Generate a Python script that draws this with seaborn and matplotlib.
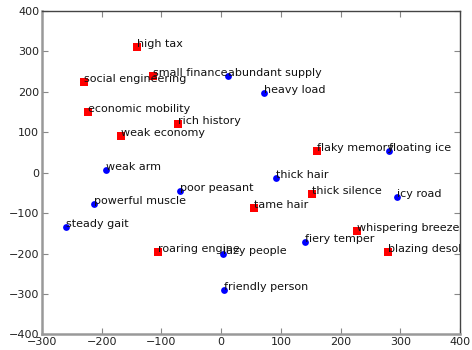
import matplotlib
matplotlib.use("Agg")
import matplotlib.pyplot as plt
import seaborn as sns
import pandas as pd

red_labels = ["high tax", "small finance", "social engineering", "economic mobility",
              "rich history", "weak economy", "flaky memory", "tame hair",
              "thick silence", "whispering breeze", "blazing desolation", "roaring engine"]
red_x = [-141, -114, -229, -223, -72, -168, 161, 55, 152, 228, 279, -106]
red_y = [311, 240, 224, 151, 121, 91, 53, -86, -53, -145, -197, -195]

blue_labels = ["abundant supply", "heavy load", "floating ice", "weak arm", "thick hair",
               "icy road", "poor peasant", "powerful muscle", "steady gait",
               "lazy people", "friendly person", "fiery temper"]
blue_x = [11, 71, 281, -193, 92, 294, -69, -213, -260, 3, 4, 140]
blue_y = [240, 197, 54, 6, -13, -61, -44, -77, -133, -202, -289, -171]

x_ticks = [-300, -200, -100, 0, 100, 200, 300, 400]
y_ticks = [-400, -300, -200, -100, 0, 100, 200, 300, 400]

red_df = pd.DataFrame({"x": red_x, "y": red_y, "label": red_labels})
blue_df = pd.DataFrame({"x": blue_x, "y": blue_y, "label": blue_labels})

fig, ax = plt.subplots(figsize=(4.72, 3.5), dpi=100)
fig.subplots_adjust(left=0.089, right=0.9746, top=0.9686, bottom=0.0443)

sns.scatterplot(data=red_df, x="x", y="y", marker="s", color="#ff0000", s=26,
                linewidth=0, ax=ax, zorder=3)
sns.scatterplot(data=blue_df, x="x", y="y", marker="o", color="#0000ff", s=24,
                linewidth=0, ax=ax, zorder=3)

for df in (red_df, blue_df):
    for _, r in df.iterrows():
        ax.text(r["x"], r["y"], r["label"], fontsize=8, color="#111111",
                ha="left", va="baseline", clip_on=True, zorder=4)

ax.set_xlim(-300, 400)
ax.set_ylim(-400, 400)
ax.set_xticks(x_ticks)
ax.set_yticks(y_ticks)
ax.set_xlabel("")
ax.set_ylabel("")

for side in ("left", "bottom"):
    ax.spines[side].set_color("#999999")
    ax.spines[side].set_linewidth(1.8)
for side in ("top", "right"):
    ax.spines[side].set_color("#444444")
    ax.spines[side].set_linewidth(1.0)

ax.tick_params(direction="in", length=4, width=0.8, color="#888888",
               labelsize=8, labelcolor="#222222", top=True, right=True, pad=2)

fig.savefig("out.png", dpi=100)
